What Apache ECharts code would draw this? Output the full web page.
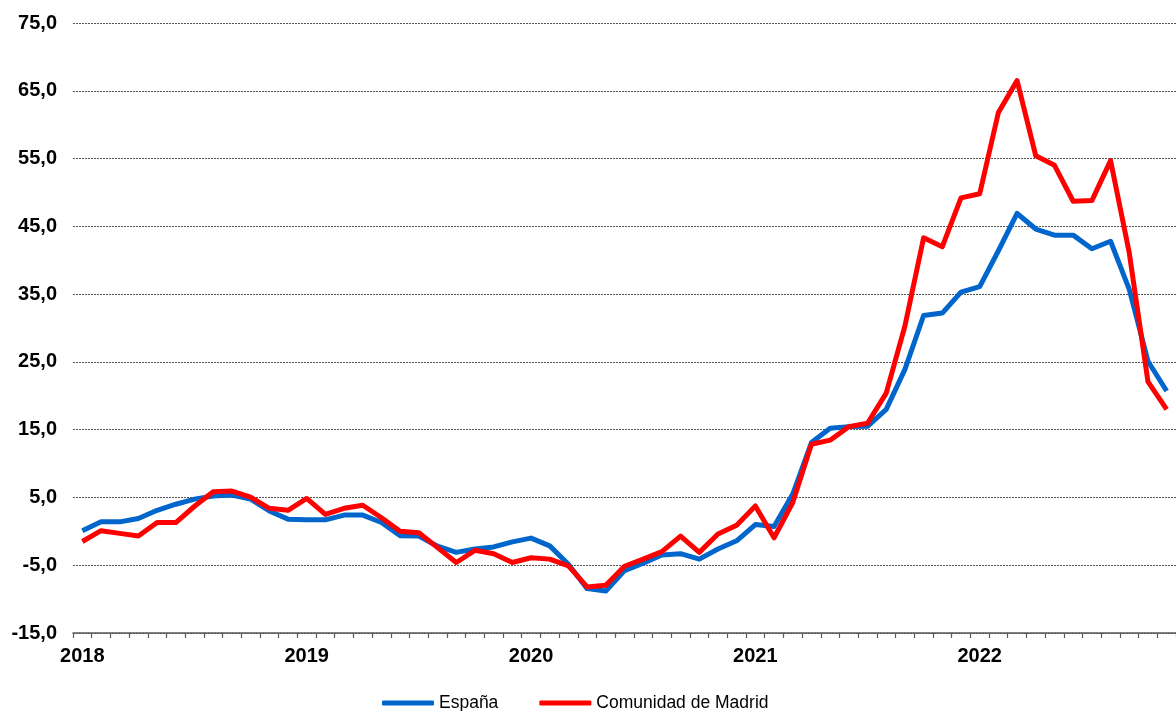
<!DOCTYPE html>
<html>
<head>
<meta charset="utf-8">
<script src="https://cdn.jsdelivr.net/npm/echarts@6/dist/echarts.min.js"></script>
<style>
html,body{margin:0;padding:0;background:#fff;}
#chart{width:1176px;height:711px;}
</style>
</head>
<body>
<div id="chart"></div>
<script>
// Monthly categories Jan 2018 – Nov 2022
var years = ['2018','2019','2020','2021','2022'];
var months = ['01','02','03','04','05','06','07','08','09','10','11','12'];
var categories = [];
years.forEach(function(y){ months.forEach(function(m){ categories.push(y + '-' + m); }); });
categories = categories.slice(0, 59);

var espana = [
  0.1, 1.4, 1.4, 1.9, 3.1, 4.0, 4.75, 5.2, 5.35, 4.75, 3.0, 1.8,
  1.7, 1.7, 2.4, 2.4, 1.3, -0.65, -0.7, -2.2, -3.1, -2.6, -2.3, -1.55,
  -1.0, -2.15, -4.85, -8.45, -8.8, -5.8, -4.7, -3.5, -3.3, -4.1, -2.6, -1.4,
  1.0, 0.7, 5.5, 13.1, 15.2, 15.45, 15.5, 18.0, 23.9, 31.85, 32.2, 35.3,
  36.1, 41.4, 46.9, 44.6, 43.7, 43.7, 41.7, 42.8, 35.7, 25.1, 20.7
];
var madrid = [
  -1.5, 0.1, -0.3, -0.7, 1.3, 1.3, 3.7, 5.85, 5.95, 5.05, 3.4, 3.1,
  4.85, 2.5, 3.4, 3.85, 2.0, 0.0, -0.2, -2.4, -4.6, -2.8, -3.3, -4.6,
  -3.9, -4.1, -5.1, -8.2, -7.95, -5.15, -4.1, -3.0, -0.7, -3.1, -0.4, 0.9,
  3.75, -0.95, 4.25, 12.85, 13.45, 15.45, 15.95, 20.4, 30.3, 43.3, 42.0, 49.2,
  49.8, 61.8, 66.5, 55.4, 54.0, 48.7, 48.8, 54.7, 41.1, 22.1, 18.0
];
var seriesNames = ['España', 'Comunidad de Madrid'];
var seriesColors = ['#0066CC', '#FF0000'];

var FONT = '"Liberation Sans", Arial, sans-serif';
var chart = echarts.init(document.getElementById('chart'), null, {renderer: 'canvas'});
chart.setOption({
  animation: false,
  backgroundColor: '#ffffff',
  grid: {left: 73, right: 0, top: 23, bottom: 78, containLabel: false},
  legend: {
    left: 377, top: 689,
    itemWidth: 52, itemHeight: 5, itemGap: 41,
    icon: 'roundRect',
    textStyle: {fontFamily: FONT, fontSize: 17.5, color: '#000'},
    data: seriesNames
  },
  xAxis: {
    type: 'category',
    data: categories,
    boundaryGap: true,
    axisLine: {show: true, onZero: false, lineStyle: {color: '#5a5a5a', width: 1.5}},
    axisTick: {show: true, interval: 0, length: 5, lineStyle: {color: '#5a5a5a', width: 1.2}},
    axisLabel: {
      interval: 11, margin: 13,
      fontFamily: FONT, fontSize: 20, fontWeight: 'bold', color: '#000',
      formatter: function(v){ return v.slice(0, 4); }
    },
    splitLine: {show: false}
  },
  yAxis: {
    type: 'value',
    min: -15, max: 75, interval: 10,
    axisLine: {show: false},
    axisTick: {show: false},
    axisLabel: {
      margin: 16,
      fontFamily: FONT, fontSize: 20, fontWeight: 'bold', color: '#000',
      formatter: function(v){ return v.toFixed(1).replace('.', ','); }
    },
    splitLine: {show: true, lineStyle: {color: '#555', width: 1, type: [2, 1]}}
  },
  series: [
    {name: seriesNames[0], type: 'line', data: espana, symbol: 'none', smooth: false,
     color: seriesColors[0], lineStyle: {color: seriesColors[0], width: 5, join: 'round'}},
    {name: seriesNames[1], type: 'line', data: madrid, symbol: 'none', smooth: false,
     color: seriesColors[1], lineStyle: {color: seriesColors[1], width: 5, join: 'round'}}
  ]
});
</script>
</body>
</html>
